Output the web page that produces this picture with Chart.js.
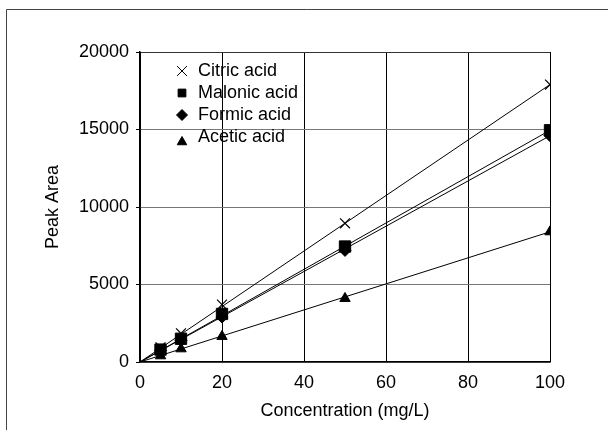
<!DOCTYPE html>
<html>
<head>
<meta charset="utf-8">
<script src="https://cdn.jsdelivr.net/npm/chart.js@4.4.1/dist/chart.umd.min.js"></script>
<style>
  html, body { margin: 0; padding: 0; background: #fff; }
  #wrap { width: 608px; height: 430px; position: relative; }
</style>
</head>
<body>
<div id="wrap"><canvas id="calibChart" width="608" height="430"></canvas></div>
<script>
  // concentrations (mg/L) and peak areas
  const concentrations = [5, 10, 20, 50, 100];
  const citricAcid = [950, 1850, 3700, 8950, 17900];
  const malonicAcid = [800, 1500, 3100, 7450, 14950];
  const formicAcid = [750, 1400, 2900, 7200, 14600];
  const aceticAcid = [400, 850, 1650, 4100, 8400];

  // fitted lines through the origin, value at 100 mg/L
  const fitStart = [0, 0];
  const fitEndAt100 = [17900, 14950, 14600, 8400];

  const seriesNames = ["Citric acid", "Malonic acid", "Formic acid", "Acetic acid"];
  const seriesValues = [citricAcid, malonicAcid, formicAcid, aceticAcid];
  const markerStyles = ["crossRot", "rect", "rectRot", "triangle"];
  const markerSizes = [7, 8, 6, 6];

  const xTicks = [0, 20, 40, 60, 80, 100];
  const yTicks = [0, 5000, 10000, 15000, 20000];

  const fontFamily = "'Liberation Sans', Arial, sans-serif";

  const datasets = [];
  seriesNames.forEach((name, i) => {
    datasets.push({
      label: name,
      data: concentrations.map((c, j) => ({ x: c, y: seriesValues[i][j] })),
      showLine: false,
      pointStyle: markerStyles[i],
      pointRadius: markerSizes[i],
      pointHoverRadius: markerSizes[i],
      pointBackgroundColor: "#000",
      pointBorderColor: "#000",
      pointBorderWidth: markerStyles[i] === "crossRot" ? 1.2 : 1,
      inLegend: true,
      order: 1,
    });
    datasets.push({
      label: name + " fit",
      data: [
        { x: fitStart[0], y: fitStart[1] },
        { x: 100, y: fitEndAt100[i] },
      ],
      showLine: true,
      borderColor: "#000",
      borderWidth: 1,
      pointRadius: 0,
      inLegend: false,
      order: 2,
    });
  });

  //frame around the whole figure
  const framePlugin = {
    id: "frame",
    beforeDraw(chart) {
      const ctx = chart.ctx;
      ctx.save();
      ctx.strokeStyle = "#444";
      ctx.lineWidth = 1;
      ctx.beginPath();
      ctx.moveTo(6.5, 430);
      ctx.lineTo(6.5, 9.5);
      ctx.lineTo(608, 9.5);
      ctx.stroke();
      ctx.restore();
    },
  };

  // legend drawn inside the plot area, no background
  const innerLegend = {
    id: "innerLegend",
    afterDraw(chart) {
      const ctx = chart.ctx;
      const area = chart.chartArea;
      const x0 = area.left + 42;
      let y = area.top + 19;
      ctx.save();
      ctx.font = "18px " + fontFamily;
      ctx.fillStyle = "#000";
      ctx.textBaseline = "middle";
      chart.data.datasets.forEach((ds) => {
        if (!ds.inLegend) return;
        Chart.helpers.drawPoint(
          ctx,
          {
            pointStyle: ds.pointStyle,
            radius: ds.pointStyle === "crossRot" ? 7 : 5.5,
            borderWidth: 1,
            rotation: 0,
          },
          x0,
          ds.pointStyle === "triangle" ? y + 5 : y
        );
        ctx.fillStyle = "#000";
        ctx.strokeStyle = "#000";
        ctx.fillText(ds.label, x0 + 16, y);
        y += 22;
      });
      ctx.restore();
    },
  };

  new Chart(document.getElementById("calibChart"), {
    type: "scatter",
    data: { datasets: datasets },
    plugins: [framePlugin, innerLegend],
    options: {
      responsive: false,
      animation: false,
      layout: { padding: { left: 0, top: 52, right: 58, bottom: 0 } },
      plugins: {
        legend: { display: false },
        tooltip: { enabled: false },
      },
      elements: { line: { tension: 0 } },
      scales: {
        x: {
          type: "linear",
          min: 0,
          max: 100,
          afterBuildTicks: (scale) => {
            scale.ticks = xTicks.map((v) => ({ value: v }));
          },
          afterFit: (scale) => {
            scale.height = 68;
          },
          grid: {
            color: "#000",
            lineWidth: 1,
            drawTicks: false,
          },
          border: { color: "#000", width: 1.5 },
          ticks: {
            color: "#000",
            padding: 10,
            font: { size: 18, family: fontFamily },
            callback: (v) => String(v),
          },
          title: {
            display: true,
            text: "Concentration (mg/L)",
            color: "#000",
            padding: { top: 2, bottom: 8 },
            font: { size: 18, family: fontFamily },
          },
        },
        y: {
          type: "linear",
          min: 0,
          max: 20000,
          afterBuildTicks: (scale) => {
            scale.ticks = yTicks.map((v) => ({ value: v }));
          },
          afterFit: (scale) => {
            scale.width = 140;
          },
          grid: {
            color: (c) => (c.tick && c.tick.value === 20000 ? "#333" : "#777"),
            lineWidth: 1,
            tickLength: 4,
            tickColor: "#000",
          },
          border: { color: "#000", width: 1.5 },
          ticks: {
            color: "#000",
            padding: 7,
            font: { size: 18, family: fontFamily },
            callback: (v) => String(v),
          },
          title: {
            display: true,
            text: "Peak Area",
            color: "#000",
            padding: { top: 42, bottom: 0 },
            font: { size: 18, family: fontFamily },
          },
        },
      },
    },
  });
</script>
</body>
</html>
